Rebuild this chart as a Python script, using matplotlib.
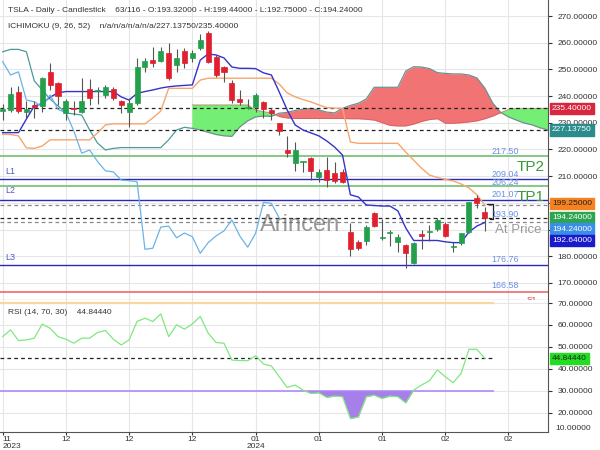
import matplotlib
matplotlib.use("Agg")
import matplotlib.pyplot as plt
import matplotlib.transforms as mtrans
import numpy as np

plt.rcParams['font.family'] = ['Liberation Sans', 'DejaVu Sans']

# ---------------- data ----------------
opens  = [234.5, 234.8, 241.6, 233.9, 236.6, 236.3, 249.1, 244.8, 233.6, 235.6,
          233.9, 242.7, 241.9, 240.4, 242.5, 238.2, 234.2, 237.3, 251.0, 253.5,
          253.1, 256.0, 251.7, 256.9, 254.2, 257.9, 263.5, 254.8, 251.0, 244.8,
          238.9, 235.7, 236.0, 237.9, 234.8, 230.0, 219.8, 215.1, 215.4, 216.7,
          209.8, 212.3, 211.1, 211.7, 189.2, 185.5, 185.7, 196.1, 186.8, 188.6,
          185.5, 184.2, 177.4, 188.2, 189.1, 190.1, 192.1, 183.3, 185.1, 189.2,
          201.7, 196.4]
highs  = [237.0, 243.3, 243.8, 238.2, 238.2, 247.2, 252.5, 245.3, 238.9, 238.3,
          246.7, 246.3, 243.5, 244.2, 243.3, 238.5, 239.2, 254.2, 254.2, 258.5,
          258.5, 259.8, 257.5, 257.9, 257.3, 263.1, 264.5, 255.4, 251.4, 246.0,
          242.3, 239.0, 241.0, 238.3, 235.4, 230.0, 225.1, 222.9, 215.6, 217.0,
          212.5, 217.3, 215.4, 212.6, 192.3, 186.1, 191.7, 196.7, 193.9, 189.9,
          188.2, 184.6, 185.5, 190.0, 191.7, 194.2, 193.0, 185.5, 188.6, 200.5,
          203.0, 198.5]
lows   = [231.0, 233.9, 233.6, 231.7, 231.7, 234.2, 242.3, 236.7, 231.0, 232.9,
          233.6, 236.7, 236.9, 239.4, 238.5, 233.6, 228.5, 236.7, 249.1, 251.0,
          252.9, 246.0, 249.1, 250.4, 252.9, 257.3, 252.3, 247.3, 245.4, 237.3,
          236.7, 235.0, 234.2, 231.7, 231.0, 225.4, 217.3, 212.1, 211.7, 208.6,
          207.9, 206.1, 207.6, 207.3, 180.1, 182.4, 184.2, 190.9, 186.1, 183.9,
          181.7, 175.5, 177.1, 182.6, 185.8, 189.6, 187.3, 181.7, 184.2, 188.8,
          198.0, 189.5]
closes = [235.2, 240.8, 234.4, 235.2, 236.0, 246.7, 244.2, 240.0, 238.2, 235.2,
          238.2, 239.4, 242.1, 243.3, 239.4, 236.7, 237.3, 251.0, 253.1, 252.3,
          256.9, 246.7, 254.2, 252.3, 256.0, 261.0, 252.9, 247.9, 249.1, 238.5,
          237.9, 236.0, 240.4, 235.0, 233.8, 226.9, 218.6, 219.8, 215.5, 212.0,
          211.6, 208.5, 208.3, 207.9, 182.6, 183.0, 190.9, 191.3, 186.9, 188.7,
          187.3, 181.1, 185.1, 187.6, 189.5, 193.6, 187.6, 183.4, 188.6, 200.2,
          199.8, 194.24]

tenkan = [226.3, 226.3, 226.3, 231.4, 236.3, 237.2, 239.6, 241.2, 241.7, 241.7,
          241.7, 241.7, 241.7, 241.7, 241.7, 239.7, 238.5, 241.0, 241.7, 242.3,
          243.0, 243.5, 243.8, 244.0, 244.2, 253.5, 255.8, 255.4, 254.3, 250.9,
          250.4, 250.4, 250.3, 248.7, 247.9, 241.5, 234.8, 229.2, 227.3, 226.2,
          225.1, 223.2, 220.9, 217.9, 203.0, 202.2, 199.2, 199.0, 198.8, 198.8,
          197.0, 190.6, 185.9, 185.9, 185.9, 185.9, 185.4, 185.1, 185.1, 189.1,
          191.3, 192.64]
kijun  = [225.7, 225.6, 225.1, 220.6, 220.4, 221.3, 223.6, 223.6, 223.6, 223.6,
          223.6, 223.6, 226.2, 229.2, 229.6, 229.6, 229.6, 229.6, 229.6, 231.8,
          234.4, 242.9, 242.9, 242.9, 242.9, 246.0, 246.7, 246.7, 246.7, 246.7,
          246.7, 246.7, 246.7, 246.7, 246.7, 244.5, 241.2, 239.7, 238.7, 237.8,
          236.7, 235.7, 235.5, 235.4, 222.8, 222.3, 222.3, 222.3, 222.3, 222.3,
          222.3, 219.0, 216.0, 213.0, 210.4, 209.5, 208.8, 208.2, 207.1, 205.6,
          203.0, 199.25]
# Senkou span B drawn alone (bars 0-24), then both spans from bar 24 to 69
span_b_early = [256.6, 257.5, 257.5, 256.6, 245.7, 242.3, 238.9, 236.3, 233.7, 233.3,
                232.9, 227.3, 222.4, 219.8, 220.4, 220.7, 220.7, 220.7, 220.7, 220.7,
                220.7, 223.6, 227.3, 228.3, 227.9]
span_a = [236.7, 236.7, 236.7, 236.7, 236.7, 236.7, 236.7, 236.7, 234.8, 234.2,
          233.7, 232.3, 231.8, 231.6, 231.6, 231.6, 231.6, 231.6, 231.6, 231.6,
          231.5, 231.5, 231.3, 231.0, 230.0, 229.0, 228.8, 228.8, 229.5, 230.5,
          231.2, 231.5, 229.8, 229.8, 230.0, 230.3, 230.7, 231.5, 232.5, 233.8,
          235.0, 235.4, 235.4, 235.4, 235.4, 235.4]
span_b = [227.9, 227.3, 226.4, 225.6, 225.1, 224.9, 228.4, 230.7, 232.2, 232.5,
          232.4, 233.6, 233.9, 234.6, 235.1, 235.4, 234.8, 234.0, 233.7, 235.4,
          236.5, 237.3, 238.9, 243.3, 243.3, 243.3, 243.3, 249.4, 251.0, 250.9,
          250.3, 248.8, 248.5, 248.3, 248.3, 247.9, 246.8, 243.0, 237.4, 233.9,
          232.2, 231.0, 229.9, 229.2, 228.1, 227.3]
cloud_start = 24
chikou_shift = 26

rsi = [54.7, 57.8, 52.9, 53.2, 54.0, 60.4, 58.5, 54.7, 53.5, 51.7,
       54.0, 54.0, 56.6, 57.5, 53.5, 50.9, 53.2, 61.6, 63.1, 61.6,
       65.1, 54.7, 60.1, 58.1, 60.5, 63.9, 56.3, 52.0, 51.7, 44.0,
       43.8, 43.7, 46.0, 42.2, 41.3, 36.4, 31.5, 32.6, 30.3, 28.8,
       29.1, 27.0, 27.6, 27.3, 17.3, 18.1, 27.3, 28.0, 26.5, 27.6,
       27.3, 24.5, 30.3, 32.6, 34.6, 39.5, 36.4, 33.7, 37.9, 48.9,
       48.9, 44.8444]

levels_blue = [209.04, 201.07, 176.76]
levels_green = [217.50, 206.24]
level_red = 166.58
dashed_black = [235.40, 227.1375, 194.24]
dashed_gray = [199.25, 192.64]

xtick_pos = [0, 8, 16, 24, 32, 40, 48, 56, 64]
xtick_labels = ['11\n2023', '12', '12', '12', '01\n2024', '01', '01', '02', '02']
price_ticks = [170, 180, 190, 200, 210, 220, 230, 240, 250, 260, 270]
hidden_price_ticks = [190, 200]   # covered by value boxes in the reference
rsi_ticks = [20, 30, 40, 50, 60, 70]

FS = 6.0

# ---------------- figure ----------------
fig = plt.figure(figsize=(6, 4.5), dpi=100)
ax = fig.add_axes([0, 150/450, 548/600, 300/450])
ar = fig.add_axes([0, 18/450, 548/600, 132/450], sharex=ax)

n = len(closes)
bars = np.arange(n)
XMIN, XMAX = -0.34, 69.0
ax.set_xlim(XMIN, XMAX)
ax.set_ylim(163.6, 276.0)
ar.set_ylim(11.2, 71.4)

grid_c = '#e6e6e6'
for a in (ax, ar):
    a.set_xticks(xtick_pos)
    a.grid(True, color=grid_c, lw=0.8)
    a.set_axisbelow(True)
    for s in ('left', 'top'):
        a.spines[s].set_visible(False)
    a.spines['right'].set_color('#555555')
    a.spines['bottom'].set_color('#555555')
    a.yaxis.tick_right()
    a.tick_params(axis='y', labelsize=FS, colors='#333333', length=3, pad=4)
ax.tick_params(axis='x', length=0, labelbottom=False)
ar.tick_params(axis='x', labelsize=FS, colors='#333333', length=2, pad=1)
ar.set_xticklabels(xtick_labels, linespacing=1.05)
ar.get_xticklabels()[0].set_horizontalalignment('left')

ax.set_yticks(price_ticks)
ax.set_yticklabels(['' if v in hidden_price_ticks else '%.5f' % v for v in price_ticks])
ar.set_yticks(rsi_ticks)
ar.set_yticklabels(['%.5f' % v for v in rsi_ticks])
ar.text(1.0 + 7/548, 12.9, '10.00000', transform=mtrans.blended_transform_factory(ar.transAxes, ar.transData),
        fontsize=FS, color='#333333', va='center', ha='left')

# ---------------- cloud ----------------
xb_early = np.arange(len(span_b_early))
ax.plot(xb_early, span_b_early, color='#4d9a9a', lw=0.9, zorder=2)
xc = np.arange(cloud_start, cloud_start + len(span_a))
sa = np.array(span_a); sb = np.array(span_b)
ax.fill_between(xc, sa, sb, where=sa >= sb, interpolate=True, color='#74ee74', lw=0, zorder=1)
ax.fill_between(xc, sa, sb, where=sa < sb, interpolate=True, color='#f27373', lw=0, zorder=1)
ax.plot(xc, sb, color='#6f8f8f', lw=0.9, zorder=2)
ax.plot(xc, sa, color='#c05a5a', lw=0.7, alpha=0.6, zorder=2)

# ---------------- horizontal levels ----------------
for v in levels_green:
    ax.axhline(v, color='#7cc47c', lw=1.3, zorder=2)
for v in levels_blue:
    ax.axhline(v, color='#2a2ab8', lw=1.0, zorder=2)
ax.axhline(level_red, color='#ea6a6a', lw=1.2, zorder=2)
for v in dashed_black:
    ax.axhline(v, color='#222222', lw=0.9, ls=(0, (3, 2.5)), zorder=2)
for v in dashed_gray:
    ax.axhline(v, color='#888888', lw=0.9, ls=(0, (3, 2.5)), zorder=2)

# ---------------- ichimoku lines ----------------
ax.plot(bars, kijun, color='#f5a66e', lw=1.0, zorder=3)
ax.plot(bars, tenkan, color='#3434c8', lw=1.0, zorder=3)
chikou = closes[chikou_shift:]
ax.plot(np.arange(len(chikou)), chikou, color='#6bb3e8', lw=0.9, zorder=3)

# ---------------- candles ----------------
up_c, dn_c = '#22a04b', '#e0202e'
for i in range(n):
    o, h, l, c = opens[i], highs[i], lows[i], closes[i]
    col = up_c if c >= o else dn_c
    ax.vlines(i, l, h, color='#555555', lw=0.8, zorder=4)
    bot = min(o, c); ht = max(abs(c - o), 0.35)
    ax.add_patch(plt.Rectangle((i - 0.32, bot), 0.64, ht, facecolor=col, edgecolor=col, lw=0.5, zorder=5))

# bracket at last bar
ax.plot([61.3, 62.0, 62.0, 61.6], [199.5, 199.5, 194.1, 194.1], color='#222222', lw=0.9, zorder=6)

# ---------------- texts ----------------
lbl_c = '#6a8fe8'
xlab = 61.8
for v, yv in [('217.50', 219.4), ('209.04', 210.8), ('206.24', 207.8), ('201.07', 203.0),
              ('193.90', 195.8), ('176.76', 178.6), ('166.58', 168.9)]:
    ax.text(xlab, yv, v, color=lbl_c, fontsize=FS + 0.4, va='center', ha='left', zorder=7)
for t, yv in [('L1', 211.6), ('L2', 204.5), ('L3', 179.7)]:
    ax.text(0.3, yv, t, color='#4a5acf', fontsize=FS + 0.4, va='center', ha='left', zorder=7)
ax.text(65.0, 213.4, 'TP2', color='#3a9a3a', fontsize=11, va='center', ha='left', zorder=7)
ax.text(65.0, 202.2, 'TP1', color='#3a9a3a', fontsize=11, va='center', ha='left', zorder=7)
ax.text(62.3, 189.9, 'At Price', color='#9a9a9a', fontsize=9.5, va='center', ha='left', zorder=7)
ax.text(37.6, 191.7, 'Arincen', color='#555555', alpha=0.6, fontsize=17, va='center', ha='center', zorder=7)
ax.text(66.3, 163.4, 'S1', color='#e03030', fontsize=FS, va='center', ha='left', zorder=7, clip_on=True)

fig.text(8/600, 1 - 10/450, 'TSLA - Daily - Candlestick    63/116 - O:193.32000 - H:199.44000 - L:192.75000 - C:194.24000',
         fontsize=FS, color='#333333', va='center', ha='left')
fig.text(8/600, 1 - 26/450, 'ICHIMOKU (9, 26, 52)    n/a/n/a/n/a/n/a/227.13750/235.40000',
         fontsize=FS, color='#333333', va='center', ha='left')

# right-side value boxes
bt = mtrans.blended_transform_factory(ax.transAxes, ax.transData)
xbox = 1.0 + 4/548
for txt, yv, fc, tc in [('235.40000', 235.5, '#d7263d', 'white'),
                        ('227.13750', 227.3, '#2a8c8c', 'white'),
                        ('199.25000', 199.6, '#f5821f', '#222222'),
                        ('194.24000', 194.6, '#2da44e', 'white'),
                        ('194.24000', 190.2, '#3a8ee6', 'white'),
                        ('192.64000', 185.8, '#1a1acc', 'white')]:
    ax.text(xbox, yv, txt, transform=bt, fontsize=FS, color=tc, va='center', ha='left',
            bbox=dict(boxstyle='square,pad=0.25', fc=fc, ec=fc), zorder=8, clip_on=False)

# ---------------- RSI ----------------
r = np.array(rsi)
ar.plot([XMIN, 62], [70, 70], color='#fad7a0', lw=1.6, zorder=2)
ar.plot([XMIN, 62], [30, 30], color='#b388ff', lw=1.2, zorder=2)
ar.plot([XMIN, 62], [rsi[-1], rsi[-1]], color='#222222', lw=0.9, ls=(0, (3, 2.5)), zorder=2)
ar.fill_between(bars, r, 30, where=r < 30, interpolate=True, color='#a67fea', lw=0, zorder=3)
ar.plot(bars, r, color='#7fe87f', lw=0.9, zorder=4)
ar.text(8/548, 0.905, 'RSI (14, 70, 30)    44.84440', transform=ar.transAxes, fontsize=FS,
        color='#333333', va='center', ha='left')
btr = mtrans.blended_transform_factory(ar.transAxes, ar.transData)
ar.text(xbox, rsi[-1], '44.84440', transform=btr, fontsize=FS, color='#222222', va='center', ha='left',
        bbox=dict(boxstyle='square,pad=0.25', fc='#22dd22', ec='#22dd22'), zorder=8, clip_on=False)

fig.savefig('out.png', dpi=100)
